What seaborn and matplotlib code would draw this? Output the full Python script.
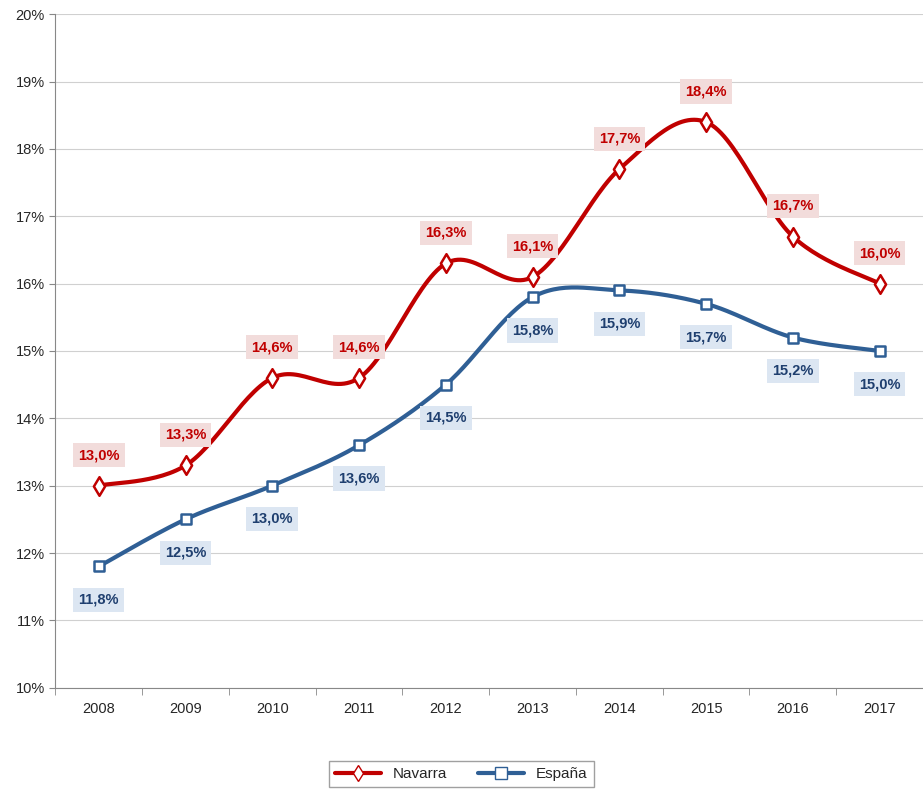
import numpy as np
import matplotlib
matplotlib.use("Agg")
import matplotlib.pyplot as plt
import seaborn as sns
import pandas as pd

years = ["2008","2009","2010","2011","2012","2013","2014","2015","2016","2017"]
navarra = [13.0,13.3,14.6,14.6,16.3,16.1,17.7,18.4,16.7,16.0]
espana = [11.8,12.5,13.0,13.6,14.5,15.8,15.9,15.7,15.2,15.0]

sns.set_style("white")
plt.rcParams['font.family'] = ['Liberation Sans', 'DejaVu Sans']

def smooth(y, n=30):
    x = np.arange(len(y), dtype=float); y = np.asarray(y, float)
    P = np.column_stack([x, y])
    P = np.vstack([P[0], P, P[-1]])
    out = []
    for i in range(1, len(P)-2):
        p0, p1, p2, p3 = P[i-1], P[i], P[i+1], P[i+2]
        t = np.linspace(0, 1, n)[:, None]
        seg = 0.5*((2*p1) + (-p0+p2)*t + (2*p0-5*p1+4*p2-p3)*t**2 + (-p0+3*p1-3*p2+p3)*t**3)
        out.append(seg)
    s = np.vstack(out)
    return s[:, 0], s[:, 1]

fig = plt.figure(figsize=(9.23, 7.95), dpi=100)
ax = fig.add_axes([0.06, 0.135, 0.94, 0.847])
red = "#c00000"; blue = "#2f5f95"
for vals, col, mk, name in [(navarra, red, "d", "Navarra"), (espana, blue, "s", "España")]:
    sx, sy = smooth(vals)
    ax.plot(sx, sy, color=col, lw=3, zorder=3)
    df = pd.DataFrame({"x": np.arange(len(years)), "y": vals})
    sns.scatterplot(data=df, x="x", y="y", ax=ax, marker=mk, s=90 if mk == "d" else 55,
                    facecolor="white", edgecolor=col, linewidth=1.8, zorder=4, legend=False)
    ax.plot([], [], color=col, lw=3, marker=mk, mfc="white", mec=col, ms=8, label=name)

for i, v in enumerate(navarra):
    ax.annotate(f"{v:.1f}%".replace(".", ","), (i, v), xytext=(0, 22), textcoords="offset points",
                ha="center", va="center", color=red, fontsize=10.5, fontweight="bold",
                bbox=dict(boxstyle="square,pad=0.35", fc="#f2dcdb", ec="none"))
for i, v in enumerate(espana):
    ax.annotate(f"{v:.1f}%".replace(".", ","), (i, v), xytext=(0, -24), textcoords="offset points",
                ha="center", va="center", color="#1f3f6f", fontsize=10.5, fontweight="bold",
                bbox=dict(boxstyle="square,pad=0.35", fc="#dce6f2", ec="none"))

ax.set_xlim(-0.5, 9.5)
ax.set_ylim(10, 20)
ax.set_yticks(range(10, 21))
ax.set_yticklabels([f"{t}%" for t in range(10, 21)], fontsize=10.5)
ax.set_xticks(range(10))
ax.set_xticklabels(years, fontsize=10.5)
ax.set_xticks(np.arange(-0.5, 10, 1), minor=True)
ax.tick_params(axis="x", which="minor", length=5, color="#888888", bottom=True)
ax.tick_params(axis="x", which="major", length=0, pad=10)
ax.tick_params(axis="y", length=4, color="#888888", left=True)
ax.grid(axis="y", color="#d0d0d0", lw=0.8)
for s in ["top", "right"]:
    ax.spines[s].set_visible(False)
for s in ["left", "bottom"]:
    ax.spines[s].set_color("#888888")
ax.set_xlabel(""); ax.set_ylabel("")
h, l = ax.get_legend_handles_labels()
fig.legend(h, l, loc="lower center", bbox_to_anchor=(0.5, 0.0), ncol=2, frameon=True,
           fancybox=False, edgecolor="#888888", fontsize=11, handlelength=3)
fig.savefig("out.png", dpi=100)
